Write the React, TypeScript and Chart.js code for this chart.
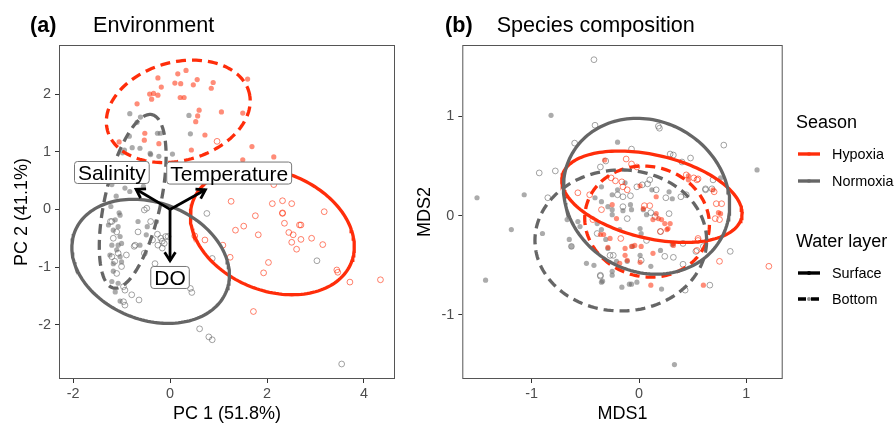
import React, { useEffect, useRef } from 'react';
import { Chart, registerables } from 'chart.js';

Chart.register(...registerables);

const FONT = "'Liberation Sans', Arial, Helvetica, sans-serif";
const RED = '#ff2d0a';
const GREY = '#666666';

// ---------------- Panel (a): Environment (PCA) ----------------
const envXTicks = [-2, 0, 2, 4];
const envXTickLabels = ['-2', '0', '2', '4'];
const envYTicks = [-2, -1, 0, 1, 2];
const envYTickLabels = ['-2', '-1', '0', '1', '2'];

const envHypoxiaSurface: [number, number][] = [
  [1.76, -0.11], [2.32, -0.07], [1.35, -0.36], [1.52, -0.29], [1.82, -0.44], [2.36, -0.24],
  [2.45, -0.40], [2.54, -0.44], [2.67, -0.27], [2.70, -0.27], [2.51, -0.57], [2.70, -0.52],
  [2.61, -0.69], [2.92, -0.50], [3.15, -0.61], [1.24, -0.83], [2.03, -0.92], [1.93, -1.10],
  [3.44, -1.05], [3.46, -1.09], [3.71, -1.26], [4.34, -1.22], [1.72, -1.77], [3.18, -0.04],
  [1.26, 0.14], [2.11, 0.10], [2.32, 0.15], [2.51, 0.10], [0.51, -0.46], [0.72, -0.53],
  [1.09, -0.62], [2.14, 0.43], [0.97, 1.18], [2.32, -0.06],
];
const envHypoxiaBottom: [number, number][] = [
  [0.16, 2.35], [0.33, 2.41], [-0.25, 2.28], [0.10, 2.19], [0.22, 2.18], [0.48, 2.16],
  [0.56, 2.25], [0.89, 2.20], [0.85, 2.10], [1.60, 2.26], [-0.18, 2.12], [-0.42, 2.00],
  [-0.34, 2.01], [-0.25, 1.98], [-0.38, 1.91], [0.21, 1.94], [0.29, 1.94], [-0.68, 1.83],
  [0.60, 1.72], [0.57, 1.62], [0.53, 1.52], [1.06, 1.69], [-0.52, 1.32], [-0.53, 1.20],
  [-1.05, 1.17], [0.44, 1.03], [0.72, 1.29], [1.50, 1.67], [1.69, 1.09], [2.14, 0.91],
  [1.50, 0.86], [-0.23, 1.14],
];
const envNormoxiaSurface: [number, number][] = [
  [-1.20, -0.21], [-1.10, -0.39], [-1.17, -0.50], [-0.90, -0.79], [-1.07, -0.76], [-1.20, -0.82],
  [-1.00, -0.99], [-1.10, -1.11], [-0.96, -1.34], [-0.93, -1.40], [-0.96, -1.60], [-0.93, -1.66],
  [-0.79, -1.48], [-0.64, -1.57], [-0.66, -0.39], [-0.72, -0.62], [-0.53, -0.76], [-0.26, -0.43],
  [-0.19, -0.50], [-0.25, -0.62], [-0.12, -0.59], [-0.04, -0.47], [-0.31, -0.94], [0.42, -1.37],
  [0.45, -1.44], [0.61, -2.07], [0.80, -2.21], [0.87, -2.26], [0.76, -0.07], [3.54, -2.68],
  [3.03, -0.89], [-0.53, -0.01], [-0.48, 0.02], [-0.40, -0.21], [-0.74, -0.64], [-0.36, -0.53],
  [-0.16, -0.55], [-0.09, -0.47], [0.87, -0.85], [-0.16, -0.67], [-1.23, -0.21], [-1.14, -0.90],
];
const envNormoxiaBottom: [number, number][] = [
  [-0.83, 1.66], [-0.61, 1.60], [-0.68, 1.51], [0.39, 1.63], [0.42, 1.31], [-0.26, 1.32],
  [-0.20, 1.32], [-0.41, 0.97], [-0.23, 0.92], [0.05, 0.96], [-0.84, 1.27], [-0.62, 1.06],
  [-0.98, 0.98], [-1.20, 0.43], [-0.93, 0.37], [-0.83, 0.31], [-0.94, 1.03], [-0.78, 1.07],
  [-0.40, 0.95], [-1.11, 0.23], [-1.22, 0.05], [-1.05, -0.06], [-1.03, -0.10], [-1.13, -0.18],
  [-1.07, -0.30], [-1.17, -0.36], [-1.03, -0.47], [-1.20, -0.62], [-1.07, -0.62], [-1.00, -0.59],
  [-1.10, -0.70], [-1.24, -0.79], [-1.03, -0.82], [-1.17, -0.94], [-1.00, -0.91], [-1.17, -1.07],
  [-1.20, -1.25], [-1.07, -1.28], [-1.13, -1.43], [-1.03, -1.59], [-0.66, -0.21], [-0.47, -0.30],
  [-0.49, -0.44], [-0.62, -0.62], [-0.28, -0.21], [-1.27, -0.27], [-0.70, 0.50], [-0.55, 0.40],
];

// loadings (arrow tips) and label positions
const envVariables = ['Salinity', 'Temperature', 'DO'];
const envLoadingX = [-0.70, 0.73, 0.0];
const envLoadingY = [0.35, 0.34, -0.89];
const envLabelX = [-1.20, 1.22, 0.0];
const envLabelY = [0.64, 0.63, -1.18];

// ellipses: centre, semi-axes, rotation (data units)
const envEllipses = [
  { season: 'Normoxia', layer: 'Surface', cx: -0.40, cy: -0.90, a: 1.654, b: 1.03, angle: -0.242 },
  { season: 'Normoxia', layer: 'Bottom', cx: -0.77, cy: 0.14, a: 1.555, b: 0.57, angle: 1.30 },
  { season: 'Hypoxia', layer: 'Surface', cx: 2.11, cy: -0.38, a: 1.724, b: 1.046, angle: -0.25 },
  { season: 'Hypoxia', layer: 'Bottom', cx: 0.17, cy: 1.70, a: 1.50, b: 0.86, angle: 0.18 },
];

// ---------------- Panel (b): Species composition (nMDS) ----------------
const sppXTicks = [-1, 0, 1];
const sppXTickLabels = ['-1', '0', '1'];
const sppYTicks = [-1, 0, 1];
const sppYTickLabels = ['-1', '0', '1'];

const sppHypoxiaSurface: [number, number][] = [
  [1.21, -0.51], [-0.12, 0.57], [-0.07, 0.52], [-0.02, 0.49], [0.55, 0.37], [0.77, 0.12],
  [0.72, 0.12], [0.71, -0.03], [0.75, -0.04], [-0.57, 0.23], [-0.46, 0.21], [-0.35, 0.06],
  [-0.17, -0.23], [0.20, -0.16], [0.55, -0.23], [0.05, 0.10], [0.10, 0.10], [0.75, -0.46],
  [-0.22, 0.35], [-0.16, 0.34], [-0.15, 0.29], [-0.11, 0.26], [0.44, 0.41], [0.51, 0.38],
  [0.54, 0.36], [0.70, 0.24], [-0.43, -0.04], [0.54, -0.35], [0.55, -0.25], [-0.26, 0.38],
];
const sppHypoxiaBottom: [number, number][] = [
  [0.60, -0.70], [0.11, -0.70], [-0.32, 0.56], [0.46, 0.40], [0.74, 0.03], [0.69, 0.26],
  [0.13, -0.04], [0.21, -0.04], [0.29, -0.08], [0.26, -0.14], [0.04, 0.07], [-0.21, -0.03],
  [-0.33, -0.19], [-0.27, -0.23], [-0.13, -0.33], [-0.04, -0.30], [0.02, -0.31], [-0.13, -0.40],
  [0.13, -0.38], [0.01, -0.47], [0.32, -0.30], [-0.18, -0.48], [0.01, 0.30], [0.16, 0.19],
  [0.46, 0.36], [0.76, 0.02], [-0.25, 0.11], [0.16, 0.02], [-0.36, -0.19], [-0.29, -0.32],
  [-0.07, -0.31], [0.18, -0.03], [0.24, -0.08], [0.27, -0.13], [0.32, -0.28], [-0.11, -0.45],
];
const sppNormoxiaSurface: [number, number][] = [
  [-0.42, 1.57], [-0.93, 0.43], [-0.78, 0.45], [-0.85, 0.18], [-0.60, 0.73], [-0.41, 0.91],
  [0.18, 0.90], [0.19, 0.88], [0.79, 0.71], [0.85, -0.36], [-0.63, -0.31], [-0.36, -0.61],
  [0.66, -0.70], [0.43, -0.75], [-0.07, 0.67], [0.29, 0.62], [0.32, 0.61], [0.48, 0.58],
  [0.40, 0.54], [-0.36, 0.49], [0.69, 0.36], [0.62, 0.26], [0.11, 0.03], [0.15, -0.01],
  [-0.11, -0.03], [-0.39, -0.18], [-0.24, -0.40], [0.02, -0.45], [0.24, -0.41], [0.32, -0.42],
  [0.41, -0.49], [0.41, -0.28], [0.53, -0.36], [-0.20, 0.21], [-0.15, 0.19], [-0.08, 0.20],
  [-0.02, 0.29], [0.03, 0.31], [0.08, 0.32], [0.10, 0.36], [0.16, 0.26], [0.25, 0.18],
  [0.39, 0.19], [0.44, 0.21], [0.62, 0.27], [0.68, 0.27], [-0.15, 0.09], [0.28, 0.02],
  [0.07, -0.25], [0.20, -0.16], [-0.27, -0.40], [-0.36, -0.60], [0.60, -0.31], [-0.31, 0.55],
];
const sppNormoxiaBottom: [number, number][] = [
  [-0.82, 1.01], [-1.51, 0.18], [-1.07, 0.21], [-1.19, -0.14], [-1.43, -0.65], [1.10, 0.46],
  [0.33, -1.50], [-0.65, -0.24], [-0.90, -0.18], [-0.34, -0.66], [-0.16, -0.72], [-0.09, -0.69],
  [-0.07, -0.69], [-0.67, -0.04], [-0.20, 0.74], [0.01, -0.13], [0.02, -0.18], [-0.25, 0.06],
  [-0.15, 0.05], [-0.39, -0.08], [-0.35, -0.14], [-0.31, -0.24], [-0.06, -0.31], [-0.29, -0.33],
  [-0.42, -0.50], [-0.49, -0.48], [0.01, -0.40], [-0.11, -0.46], [0.11, -0.51], [0.20, -0.35],
  [0.31, -0.29], [-0.25, -0.56], [-0.35, 0.29], [-0.25, 0.21], [-0.20, 0.26], [-0.13, 0.33],
  [0.12, 0.26], [0.28, 0.24], [0.31, 0.17], [0.76, 0.38], [-0.35, 0.14], [-0.29, 0.09],
  [-0.08, 0.11], [-0.07, 0.06], [-0.25, 0.01], [0.04, 0.06], [0.07, 0.01], [-0.41, 0.18],
  [-0.57, -0.06], [-0.55, -0.11], [-0.18, -0.14], [-0.21, -0.46], [-0.25, -0.60], [-0.35, -0.67],
  [-0.02, -0.67], [0.21, -0.74], [-0.63, -0.31],
];

const sppEllipses = [
  { season: 'Normoxia', layer: 'Surface', cx: 0.07, cy: 0.195, a: 0.824, b: 0.733, angle: -0.84 },
  { season: 'Normoxia', layer: 'Bottom', cx: -0.17, cy: -0.25, a: 0.80, b: 0.71, angle: 0.0 },
  { season: 'Hypoxia', layer: 'Surface', cx: 0.12, cy: 0.19, a: 0.862, b: 0.418, angle: -0.258 },
  { season: 'Hypoxia', layer: 'Bottom', cx: 0.075, cy: -0.06, a: 0.59, b: 0.55, angle: -0.5 },
];

// legend
const seasonNames = ['Hypoxia', 'Normoxia'];
const layerNames = ['Surface', 'Bottom'];

// ---------------- helpers ----------------
type Ell = { season: string; layer: string; cx: number; cy: number; a: number; b: number; angle: number };

function rgba(hex: string, a: number) {
  const r = parseInt(hex.slice(1, 3), 16);
  const g = parseInt(hex.slice(3, 5), 16);
  const b = parseInt(hex.slice(5, 7), 16);
  return `rgba(${r},${g},${b},${a})`;
}
const seasonColor = (s: string) => (s === 'Hypoxia' ? RED : GREY);

function toXY(p: [number, number][]) {
  return p.map(([x, y]) => ({ x, y }));
}

function ellipsePath(e: Ell, n = 160) {
  const out: { x: number; y: number }[] = [];
  const ca = Math.cos(e.angle);
  const sa = Math.sin(e.angle);
  for (let i = 0; i <= n; i++) {
    const t = (2 * Math.PI * i) / n;
    const ct = Math.cos(t);
    const st = Math.sin(t);
    out.push({ x: e.cx + e.a * ca * ct - e.b * sa * st, y: e.cy + e.a * sa * ct + e.b * ca * st });
  }
  return out;
}

function pointsDs(data: [number, number][], color: string, filled: boolean) {
  return {
    data: toXY(data),
    showLine: false,
    pointRadius: filled ? 2.6 : 2.9,
    pointBackgroundColor: filled ? rgba(color, 0.55) : 'rgba(0,0,0,0)',
    pointBorderColor: filled ? 'rgba(0,0,0,0)' : rgba(color, 0.6),
    pointBorderWidth: filled ? 0 : 1,
    order: 3,
  };
}

function ellipseDs(e: Ell) {
  return {
    data: ellipsePath(e),
    showLine: true,
    pointRadius: 0,
    borderColor: seasonColor(e.season),
    borderWidth: 3.3,
    borderDash: e.layer === 'Bottom' ? [10, 6] : [],
    fill: false,
    tension: 0,
    order: 1,
  };
}

function axes(opts: {
  xMin: number; xMax: number; xTicks: number[]; xLabels: string[]; xTitle: string;
  yMin: number; yMax: number; yTicks: number[]; yLabels: string[]; yTitle: string;
  yWidth: number; yTitlePad: number;
}) {
  const tickFont = { size: 14.4, family: FONT };
  const titleFont = { size: 18, family: FONT };
  const grid = { display: true, drawOnChartArea: false, drawTicks: true, tickLength: 4, tickColor: '#333333', tickWidth: 1 };
  return {
    x: {
      type: 'linear', min: opts.xMin, max: opts.xMax,
      afterBuildTicks: (ax: any) => { ax.ticks = opts.xTicks.map((v) => ({ value: v })); },
      afterFit: (ax: any) => { ax.height = 47; },
      ticks: { callback: (_v: any, i: number) => opts.xLabels[i], color: '#4d4d4d', font: tickFont, padding: 2, maxRotation: 0, autoSkip: false },
      grid, border: { display: false },
      title: { display: true, text: opts.xTitle, color: '#000', font: titleFont, padding: { top: 0, bottom: 1 } },
    },
    y: {
      type: 'linear', min: opts.yMin, max: opts.yMax,
      afterBuildTicks: (ax: any) => { ax.ticks = opts.yTicks.map((v) => ({ value: v })); },
      afterFit: (ax: any) => { ax.width = opts.yWidth; },
      ticks: { callback: (_v: any, i: number) => opts.yLabels[i], color: '#4d4d4d', font: tickFont, padding: 4, autoSkip: false },
      grid, border: { display: false },
      title: { display: true, text: opts.yTitle, color: '#000', font: titleFont, padding: { top: opts.yTitlePad, bottom: 0 } },
    },
  };
}

function panelFrame(tag: string, title: string, tagX: number, titleX: number) {
  return {
    id: 'frame-' + tag,
    afterDraw(chart: any) {
      const { ctx, chartArea } = chart;
      ctx.save();
      ctx.strokeStyle = '#555555';
      ctx.lineWidth = 1;
      ctx.strokeRect(chartArea.left + 0.5, chartArea.top + 0.5, chartArea.right - chartArea.left - 1, chartArea.bottom - chartArea.top - 1);
      ctx.fillStyle = '#000';
      ctx.textBaseline = 'alphabetic';
      ctx.textAlign = 'left';
      ctx.font = `bold 21.6px ${FONT}`;
      ctx.fillText(tag, tagX, 31.5);
      ctx.font = `21.6px ${FONT}`;
      ctx.fillText(title, titleX, 31.5);
      ctx.restore();
    },
  };
}

const biplotPlugin = {
  id: 'biplot',
  afterDatasetsDraw(chart: any) {
    const { ctx, scales } = chart;
    const xs = scales.x;
    const ys = scales.y;
    const ox = xs.getPixelForValue(0);
    const oy = ys.getPixelForValue(0);
    ctx.save();
    ctx.strokeStyle = '#000';
    ctx.lineWidth = 2.8;
    ctx.lineCap = 'butt';
    ctx.lineJoin = 'miter';
    envVariables.forEach((_, i) => {
      const tx = xs.getPixelForValue(envLoadingX[i]);
      const ty = ys.getPixelForValue(envLoadingY[i]);
      ctx.beginPath();
      ctx.moveTo(ox, oy);
      ctx.lineTo(tx, ty);
      ctx.stroke();
      const ang = Math.atan2(ty - oy, tx - ox);
      const L = 10;
      const sp = Math.PI / 5.5;
      ctx.beginPath();
      ctx.moveTo(tx - L * Math.cos(ang - sp), ty - L * Math.sin(ang - sp));
      ctx.lineTo(tx, ty);
      ctx.lineTo(tx - L * Math.cos(ang + sp), ty - L * Math.sin(ang + sp));
      ctx.stroke();
    });
    ctx.font = `21px ${FONT}`;
    envVariables.forEach((name, i) => {
      const cx = xs.getPixelForValue(envLabelX[i]);
      const cy = ys.getPixelForValue(envLabelY[i]);
      const tw = ctx.measureText(name).width;
      const w = tw + 7;
      const h = 22;
      ctx.beginPath();
      ctx.roundRect(cx - w / 2, cy - h / 2, w, h, 3);
      ctx.fillStyle = '#ffffff';
      ctx.fill();
      ctx.strokeStyle = '#777777';
      ctx.lineWidth = 1;
      ctx.stroke();
      ctx.fillStyle = '#000';
      ctx.textAlign = 'center';
      ctx.textBaseline = 'alphabetic';
      ctx.fillText(name, cx, cy + 7.6);
    });
    ctx.restore();
  },
};

const legendPlugin = {
  id: 'ggLegend',
  afterDraw(chart: any) {
    const { ctx } = chart;
    const left = 396;
    const keyX0 = 398;
    const keyX1 = 420;
    const textX = 432;
    ctx.save();
    ctx.fillStyle = '#000';
    ctx.textAlign = 'left';
    ctx.textBaseline = 'alphabetic';
    ctx.font = `18px ${FONT}`;
    ctx.fillText('Season', left, 128);
    ctx.fillText('Water layer', left, 247);
    ctx.font = `14.4px ${FONT}`;
    const drawKey = (y: number, color: string, dashed: boolean, dotColor: string) => {
      ctx.beginPath();
      ctx.strokeStyle = color;
      ctx.lineWidth = 3.4;
      ctx.setLineDash(dashed ? [8, 5] : []);
      ctx.moveTo(keyX0, y);
      ctx.lineTo(keyX1, y);
      ctx.stroke();
      ctx.setLineDash([]);
      ctx.beginPath();
      ctx.fillStyle = dotColor;
      ctx.arc((keyX0 + keyX1) / 2, y, 2, 0, Math.PI * 2);
      ctx.fill();
    };
    seasonNames.forEach((s, i) => {
      const y = 154 + i * 27;
      drawKey(y, seasonColor(s), false, rgba(seasonColor(s), 0.6));
      ctx.fillStyle = '#000';
      ctx.fillText(s, textX, y + 5.3);
    });
    layerNames.forEach((l, i) => {
      const y = 273 + i * 26;
      drawKey(y, '#000000', l === 'Bottom', l === 'Bottom' ? 'rgba(0,0,0,0.45)' : '#000');
      ctx.fillStyle = '#000';
      ctx.fillText(l, textX, y + 5.3);
    });
    ctx.restore();
  },
};

function baseOptions(scales: any, padRight: number) {
  return {
    animation: false,
    responsive: false,
    maintainAspectRatio: false,
    devicePixelRatio: 1,
    events: [],
    layout: { padding: { left: 0, top: 45, right: padRight, bottom: 0 } },
    plugins: { legend: { display: false }, tooltip: { enabled: false }, title: { display: false } },
    scales,
  };
}

export default function App() {
  const refA = useRef<HTMLCanvasElement>(null);
  const refB = useRef<HTMLCanvasElement>(null);

  useEffect(() => {
    Chart.defaults.font.family = FONT;
    const chartA = new Chart(refA.current as HTMLCanvasElement, {
      type: 'scatter',
      data: {
        datasets: [
          ...envEllipses.map((e) => ellipseDs(e)),
          pointsDs(envHypoxiaSurface, RED, false),
          pointsDs(envHypoxiaBottom, RED, true),
          pointsDs(envNormoxiaSurface, GREY, false),
          pointsDs(envNormoxiaBottom, GREY, true),
        ] as any,
      },
      options: baseOptions(
        axes({
          xMin: -2.29, xMax: 4.64, xTicks: envXTicks, xLabels: envXTickLabels, xTitle: 'PC 1 (51.8%)',
          yMin: -2.94, yMax: 2.85, yTicks: envYTicks, yLabels: envYTickLabels, yTitle: 'PC 2 (41.1%)',
          yWidth: 59, yTitlePad: 11.5,
        }),
        2,
      ) as any,
      plugins: [biplotPlugin, panelFrame('(a)', 'Environment', 30, 93)],
    });

    const chartB = new Chart(refB.current as HTMLCanvasElement, {
      type: 'scatter',
      data: {
        datasets: [
          ...sppEllipses.map((e) => ellipseDs(e)),
          pointsDs(sppHypoxiaSurface, RED, false),
          pointsDs(sppHypoxiaBottom, RED, true),
          pointsDs(sppNormoxiaSurface, GREY, false),
          pointsDs(sppNormoxiaBottom, GREY, true),
        ] as any,
      },
      options: baseOptions(
        axes({
          xMin: -1.647, xMax: 1.339, xTicks: sppXTicks, xLabels: sppXTickLabels, xTitle: 'MDS1',
          yMin: -1.645, yMax: 1.718, yTicks: sppYTicks, yLabels: sppYTickLabels, yTitle: 'MDS2',
          yWidth: 62.3, yTitlePad: 14,
        }),
        113.3,
      ) as any,
      plugins: [legendPlugin, panelFrame('(b)', 'Species composition', 45, 96.7)],
    });

    return () => {
      chartA.destroy();
      chartB.destroy();
    };
  }, []);

  return (
    <div style={{ position: 'absolute', left: 0, top: 0, width: 896, height: 426, background: '#fff' }}>
      <canvas ref={refA} width={400} height={426} style={{ position: 'absolute', left: 0, top: 0 }} />
      <canvas ref={refB} width={496} height={426} style={{ position: 'absolute', left: 400, top: 0 }} />
    </div>
  );
}
